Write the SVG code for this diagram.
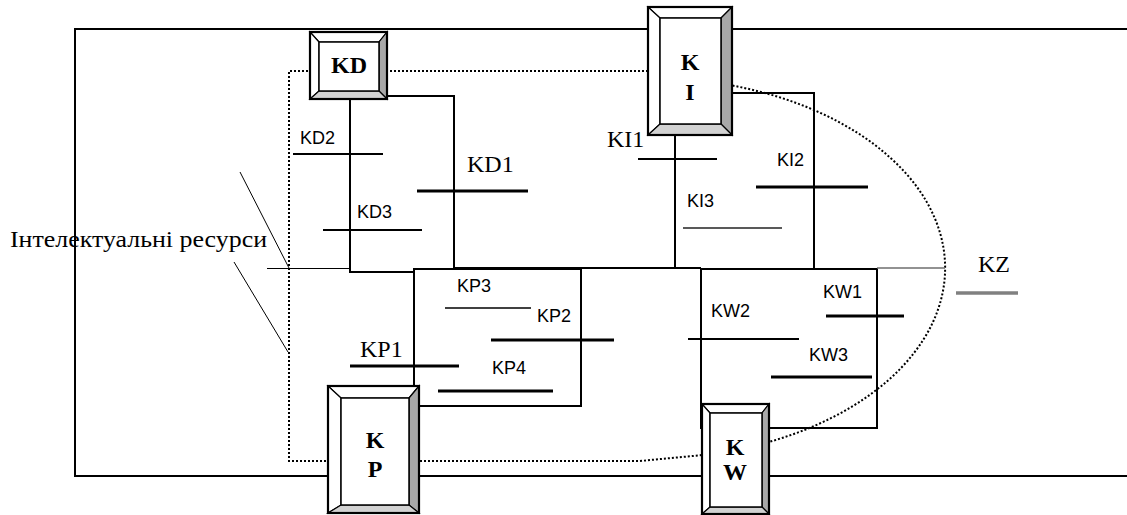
<svg xmlns="http://www.w3.org/2000/svg" width="1127" height="515" viewBox="0 0 1127 515">
<style>
.ln{fill:none;stroke:#000;stroke-width:2}
.thin{fill:none;stroke:#000;stroke-width:1}
.dot{fill:none;stroke:#000;stroke-width:2;stroke-dasharray:2 2}
.bl{stroke:#000;stroke-width:2}
.blt{stroke:#000;stroke-width:3}
.blm{stroke:#000;stroke-width:1.5}
.sans{font-family:"Liberation Sans",Arial,sans-serif;font-size:18px;fill:#000}
.serif{font-family:"Liberation Serif","Times New Roman",serif;font-size:24px;fill:#000}
.bold{font-family:"Liberation Serif","Times New Roman",serif;font-size:24px;font-weight:bold;fill:#000;text-anchor:middle}
.bw{fill:#fff;stroke:#000;stroke-width:1.2;stroke-linejoin:miter}
.bg{fill:#a8a8a8;stroke:#000;stroke-width:1.2}
.bl2{fill:#d2d2d2;stroke:#000;stroke-width:1.2}
.out{fill:none;stroke:#000;stroke-width:2.2}
.in{fill:#fff;stroke:#000;stroke-width:1.5}
</style>
<rect width="1127" height="515" fill="#fff"/>
<g id="frame">
<path class="ln" d="M1127 29 H75 V476 H1127" stroke-width="1.6"/>
</g>
<g id="boundary">
<path class="dot" d="M648 71 H289 V461 H640 L700 455.3 A295 190 0 0 0 732 85.5"/>
</g>
<g id="connectors">
<path class="thin" d="M267 268.5 H350"/>
<path class="ln" d="M350 99 V272 H414"/>
<path class="ln" d="M387 96 H454 V268"/>
<rect class="ln" x="414" y="269" width="167" height="137"/>
<path class="ln" d="M454 268 H701"/>
<path class="ln" d="M675 135 V269"/>
<path class="ln" d="M732 93 H814 V268"/>
<rect class="ln" x="701" y="269" width="176" height="159"/>
<path fill="none" stroke="#6e6e6e" stroke-width="1.5" d="M877 268 H945"/>
<path class="thin" d="M240 172 L289 268"/>
<path class="thin" d="M234 262 L288 352"/>
</g>
<g id="ticks">
<line class="bl" x1="293" y1="154" x2="383" y2="154"/>
<line class="bl" x1="323" y1="230" x2="422" y2="230"/>
<line class="blt" x1="417" y1="191" x2="528" y2="191"/>
<line class="blm" x1="445" y1="308" x2="531" y2="308"/>
<line class="blt" x1="491" y1="340" x2="614" y2="340"/>
<line class="blt" x1="350" y1="366" x2="459" y2="366"/>
<line class="blt" x1="438" y1="391" x2="553" y2="391"/>
<line class="bl" x1="638" y1="159" x2="717" y2="159"/>
<line class="blt" x1="756" y1="187" x2="868" y2="187"/>
<line stroke="#222" stroke-width="1.6" x1="683" y1="228" x2="782" y2="228"/>
<line class="blt" x1="826" y1="316" x2="904" y2="316"/>
<line class="bl" x1="688" y1="339" x2="799" y2="339"/>
<line class="blt" x1="771" y1="377" x2="872" y2="377"/>
<line stroke="#808080" stroke-width="3.5" x1="956" y1="293" x2="1018" y2="293"/>
</g>
<g id="labels">
<text class="sans" x="300" y="144">KD2</text>
<text class="sans" x="357" y="218">KD3</text>
<text class="serif" x="467" y="172">KD1</text>
<text class="sans" x="457" y="292">KP3</text>
<text class="sans" x="537" y="322">KP2</text>
<text class="serif" x="360" y="357">KP1</text>
<text class="sans" x="492" y="374">KP4</text>
<text class="serif" x="607" y="147">KI1</text>
<text class="sans" x="777" y="166">KI2</text>
<text class="sans" x="687" y="207">KI3</text>
<text class="sans" x="823" y="298">KW1</text>
<text class="sans" x="711" y="317">KW2</text>
<text class="sans" x="809" y="361">KW3</text>
<text class="serif" x="978" y="272">KZ</text>
<text class="serif" x="10" y="247" font-size="23" textLength="257" lengthAdjust="spacingAndGlyphs">Інтелектуальні ресурси</text>
</g>
<g id="KD">
<polygon class="bw" points="310,32 387,32 379,42 319,42"/>
<polygon class="bw" points="310,32 319,42 319,91 310,99"/>
<polygon class="bg" points="387,32 387,99 379,91 379,42"/>
<polygon class="bl2" points="310,99 387,99 379,91 319,91"/>
<rect class="in" x="319" y="42" width="60" height="49"/>
<rect class="out" x="310" y="32" width="77" height="67"/>
<text class="bold" x="349" y="73">KD</text>
</g>
<g id="KI">
<polygon class="bw" points="648,7 732,7 721,18 660,18"/>
<polygon class="bw" points="648,7 660,18 660,124 648,135"/>
<polygon class="bg" points="732,7 732,135 721,124 721,18"/>
<polygon class="bl2" points="648,135 732,135 721,124 660,124"/>
<rect class="in" x="660" y="18" width="61" height="106"/>
<rect class="out" x="648" y="7" width="84" height="128"/>
<text class="bold" x="690" y="70">K</text>
<text class="bold" x="690" y="100">I</text>
</g>
<g id="KP">
<polygon class="bw" points="328,386 419,386 409,398 341,398"/>
<polygon class="bw" points="328,386 341,398 341,505 328,513"/>
<polygon class="bg" points="419,386 419,513 409,505 409,398"/>
<polygon class="bl2" points="328,513 419,513 409,505 341,505"/>
<rect class="in" x="341" y="398" width="68" height="107"/>
<rect class="out" x="328" y="386" width="91" height="127"/>
<text class="bold" x="375" y="448">K</text>
<text class="bold" x="375" y="477">P</text>
</g>
<g id="KW">
<polygon class="bw" points="702,404 769,404 762,413 710,413"/>
<polygon class="bw" points="702,404 710,413 710,507 702,514"/>
<polygon class="bg" points="769,404 769,514 762,507 762,413"/>
<polygon class="bl2" points="702,514 769,514 762,507 710,507"/>
<rect class="in" x="710" y="413" width="52" height="94"/>
<rect class="out" x="702" y="404" width="67" height="110"/>
<text class="bold" x="735" y="455">K</text>
<text class="bold" x="735" y="480">W</text>
</g>
</svg>
